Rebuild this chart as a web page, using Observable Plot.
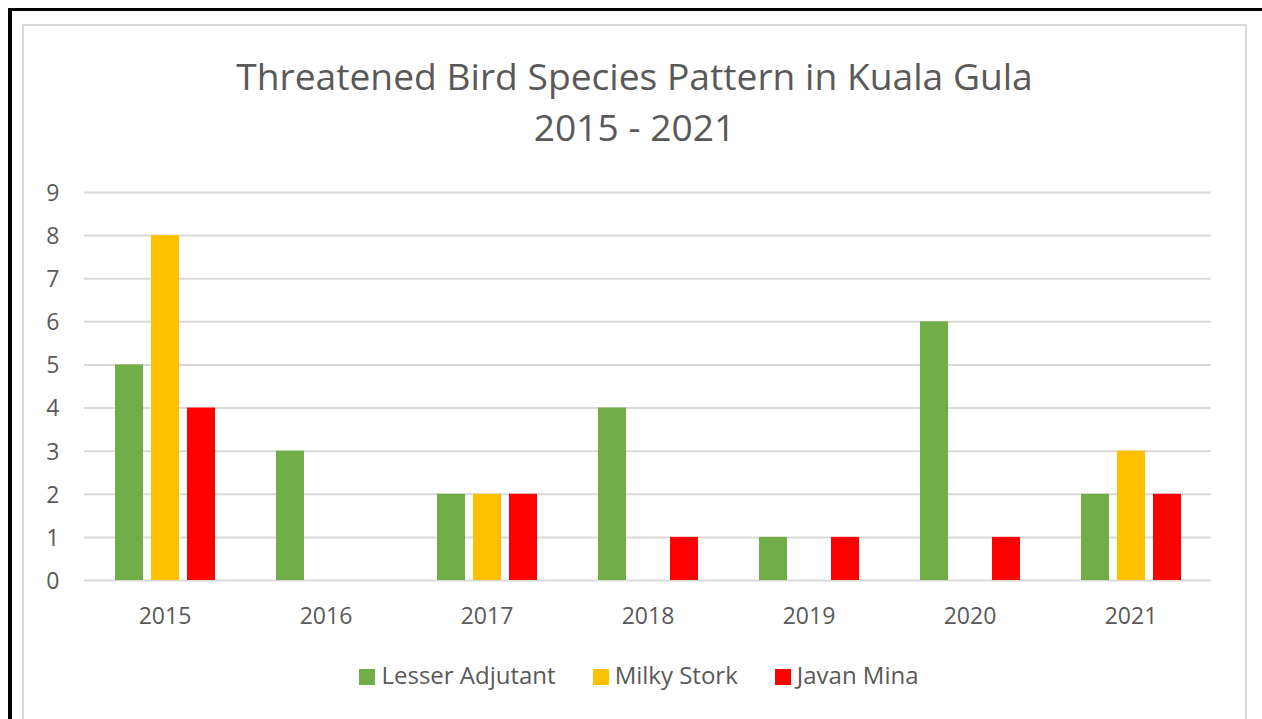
<!DOCTYPE html>
<html>
<head>
<meta charset="utf-8">
<script src="https://cdn.jsdelivr.net/npm/d3@7"></script>
<script src="https://cdn.jsdelivr.net/npm/@observablehq/plot@0.6"></script>
<style>
  body { margin: 0; background: #fff; font-family: "Open Sans", sans-serif; color: #595959; }
  #page { position: relative; width: 1262px; height: 719px; overflow: hidden; background: #fff; }
  #outer { position: absolute; left: 8px; top: 8px; width: 1400px; height: 900px; border-left: 4px solid #000; border-top: 3px solid #000; }
  #box { position: absolute; left: 22px; top: 24px; width: 1221px; height: 900px; border: 2px solid #d9d9d9; }
  #title { position: absolute; left: 22px; top: 50px; width: 1225px; text-align: center; font-size: 37.2px; line-height: 51px; color: #595959; }
  #chart { position: absolute; left: 0; top: 0; }
  #legend { position: absolute; left: 22px; top: 659px; width: 1225px; padding-left: 9px; box-sizing: border-box; display: flex; justify-content: center; gap: 37px; font-size: 24px; line-height: 32px; height: 32px; color: #595959; }
  .item { display: flex; align-items: center; gap: 6px; }
  .sw { width: 16px; height: 16px; position: relative; top: 2px; }
</style>
</head>
<body>
<div id="page">
  <div id="outer"></div>
  <div id="box"></div>
  <div id="title"></div>
  <div id="chart"></div>
  <div id="legend"></div>
</div>
<script>
const titleLines = ["Threatened Bird Species Pattern in Kuala Gula", "2015 - 2021"];
const years = ["2015", "2016", "2017", "2018", "2019", "2020", "2021"];
const species = ["Lesser Adjutant", "Milky Stork", "Javan Mina"];
const lesserAdjutant = [5, 3, 2, 4, 1, 6, 2];
const milkyStork = [8, 0, 2, 0, 0, 0, 3];
const javanMina = [4, 0, 2, 1, 1, 1, 2];
const seriesColors = ["#70AD47", "#FFC000", "#FF0000"];
const yTicks = [0, 1, 2, 3, 4, 5, 6, 7, 8, 9];

const seriesValues = [lesserAdjutant, milkyStork, javanMina];
const data = years.flatMap((year, i) =>
  species.map((s, j) => ({ year, species: s, value: seriesValues[j][i] }))
);

const titleEl = document.getElementById("title");
titleLines.forEach(t => { const d = document.createElement("div"); d.textContent = t; titleEl.appendChild(d); });

const chart = Plot.plot({
  width: 1262,
  height: 719,
  marginLeft: 83,
  marginRight: 50,
  marginTop: 192,
  marginBottom: 139,
  style: { background: "transparent", color: "#595959", fontFamily: "'Open Sans', sans-serif", fontSize: "23px", overflow: "visible" },
  fx: { domain: years, paddingInner: 0, paddingOuter: 0, label: null },
  x: { domain: species, paddingInner: 0.23, paddingOuter: 0.83, axis: null },
  y: { domain: [0, 9], label: null },
  color: { domain: species, range: seriesColors },
  marks: [
    Plot.ruleY(yTicks, { stroke: "#d9d9d9", strokeWidth: 2 }),
    Plot.barY(data, { fx: "year", x: "species", y: "value", fill: "species" }),
    Plot.axisY({ ticks: yTicks, tickSize: 0, tickPadding: 25, fontSize: 23, label: null, dy: 1 }),
    Plot.axisFx({ ticks: years, anchor: "bottom", tickSize: 0, tickPadding: 27, fontSize: 23, label: null })
  ]
});
document.getElementById("chart").appendChild(chart);

const legend = document.getElementById("legend");
species.forEach((s, i) => {
  const item = document.createElement("div");
  item.className = "item";
  const sw = document.createElement("span");
  sw.className = "sw";
  sw.style.background = seriesColors[i];
  const label = document.createElement("span");
  label.textContent = s;
  item.appendChild(sw);
  item.appendChild(label);
  legend.appendChild(item);
});
</script>
</body>
</html>
